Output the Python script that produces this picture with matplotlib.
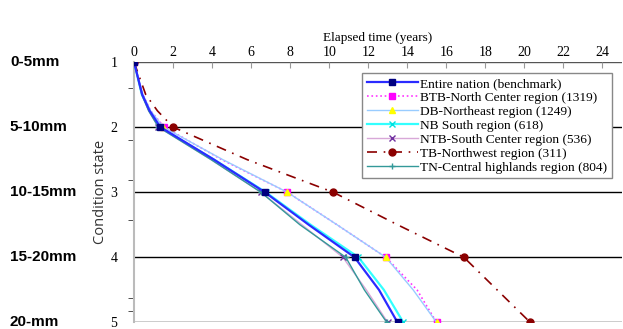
import matplotlib
matplotlib.use("Agg")
import matplotlib.pyplot as plt
import matplotlib.transforms as mtransforms

# condition states where the years were read, markers only on whole states
states = [1, 1.5, 1.75, 2, 2.5, 3, 3.5, 4, 4.5, 5]
whole = [0, 3, 5, 7, 9]

nation = [0, 0.42, 0.8, 1.35, 4.1, 6.7, 8.95, 11.3, 12.55, 13.5]
btb = [0, 0.45, 0.85, 1.55, 4.5, 7.85, 10.4, 12.9, 14.5, 15.5]
db = [0, 0.45, 0.85, 1.5, 4.55, 7.85, 10.4, 12.9, 14.3, 15.5]
nb = [0, 0.4, 0.8, 1.3, 4.1, 6.75, 9.05, 11.5, 12.8, 13.8]
ntb = [0, 0.4, 0.75, 1.25, 3.95, 6.5, 8.6, 10.7, 11.9, 13.0]
tb = [0, 0.6, 1.2, 2.0, 5.8, 10.2, 13.5, 16.9, 18.6, 20.3]
tn = [0, 0.4, 0.75, 1.25, 3.95, 6.5, 8.5, 10.85, 11.8, 12.95]

names = ["Entire nation (benchmark)", "BTB-North Center region (1319)",
         "DB-Northeast region (1249)", "NB South region (618)",
         "NTB-South Center region (536)", "TB-Northwest region (311)",
         "TN-Central highlands region (804)"]

depth_labels = ["0-5mm", "5-10mm", "10-15mm", "15-20mm", "20-mm"]
xticks = list(range(0, 25, 2))
yticks = [1, 2, 3, 4, 5]
minor_y = [1.4, 2.2, 2.81, 3.42, 4.62, 4.83]

serif = "Liberation Serif"

fig = plt.figure(figsize=(6.23, 3.29), dpi=100)
ax = fig.add_axes([0.2151, 0.02, 0.7833, 0.7916])

ax.plot(nation, states, color="#2b2bff", lw=1.6, marker="s", ms=4,
        mfc="#000080", mec="#000080", markevery=whole, label=names[0], zorder=6)
ax.plot(btb, states, color="#ff33ff", lw=1.2, ls=":", marker="s", ms=5,
        mfc="#ff00ff", mec="#ff00ff", markevery=whole, label=names[1], zorder=5)
ax.plot(db, states, color="#99ccff", lw=1.0, marker="^", ms=5,
        mfc="#ffff00", mec="#ffff00", markevery=whole, label=names[2], zorder=5)
ax.plot(nb, states, color="#33ffff", lw=1.6, marker="x", ms=5,
        mec="#00e0e0", markevery=whole, label=names[3], zorder=4)
ax.plot(ntb, states, color="#d8a8d8", lw=1.0, marker="x", ms=4,
        mec="#7030a0", markevery=whole, label=names[4], zorder=4)
ax.plot(tb, states, color="#8b0000", lw=1.2, ls=(0, (6, 4, 1, 4)), marker="o",
        ms=5, mfc="#8b0000", mec="#8b0000", markevery=whole, label=names[5], zorder=5)
ax.plot(tn, states, color="#339999", lw=1.0, marker="+", ms=5,
        mec="#339999", markevery=whole, label=names[6], zorder=5)

ax.set_xlim(0, 25)
ax.set_ylim(5, 1)
ax.set_yticks(yticks)
ax.set_yticks(minor_y, minor=True)
ax.set_xticks(xticks)
for y in yticks:
    ax.axhline(y, color="black" if y > 1 else "#555555", lw=1.0, zorder=1)

ax.xaxis.tick_top()
ax.xaxis.set_label_position("top")
ax.tick_params(axis="x", direction="in", length=4, color="#999999", pad=2,
               labelsize=10)
ax.tick_params(axis="y", which="major", length=0, pad=12, labelsize=10)
ax.tick_params(axis="y", which="minor", length=4, color="#333333", direction="out")
for lab in ax.get_xticklabels() + ax.get_yticklabels():
    lab.set_fontfamily(serif)

for side in ["top", "right", "bottom"]:
    ax.spines[side].set_visible(False)
ax.spines["left"].set_color("#bbbbbb")
ax.spines["left"].set_linewidth(1.5)

ax.set_xlabel("Elapsed time (years)", fontfamily=serif, fontsize=9.5, labelpad=4)
ax.set_ylabel("Condition state", fontfamily="Open Sans", fontsize=10.5,
              color="#333333", labelpad=2)

trans = mtransforms.blended_transform_factory(fig.transFigure, ax.transData)
for y, lab in zip(yticks, depth_labels):
    fig.text(0.016, y, lab, transform=trans, va="center", ha="left",
             fontsize=11, fontweight="bold", clip_on=False,
             family=["Liberation Sans Narrow", "Liberation Sans"])

leg = ax.legend(loc="upper right", bbox_to_anchor=(0.98, 0.958),
                borderaxespad=0, prop={"family": serif, "size": 9.6},
                frameon=True, fancybox=False, edgecolor="#888888",
                framealpha=1, handlelength=3.8, labelspacing=0.12,
                borderpad=0.35, handletextpad=0.2)
leg.get_frame().set_linewidth(1.0)

fig.savefig("out.png", dpi=100)
